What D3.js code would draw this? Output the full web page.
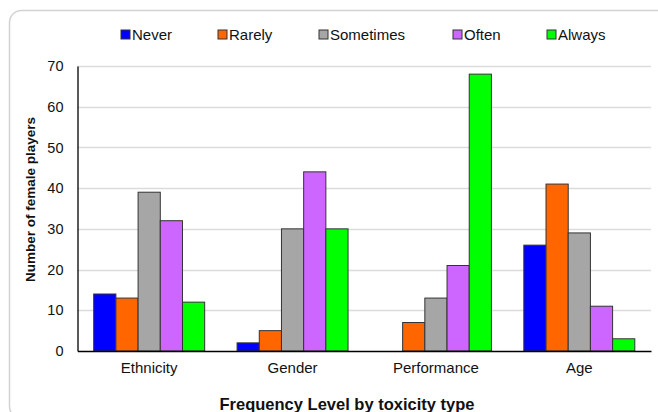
<!DOCTYPE html>
<html>
<head>
<meta charset="utf-8">
<script src="https://cdn.jsdelivr.net/npm/d3@7"></script>
<style>
  html, body { margin: 0; padding: 0; background: #fff; }
  svg { display: block; font-family: "Liberation Sans", Arial, sans-serif; }
</style>
</head>
<body>
<svg id="chart" width="658" height="412"></svg>
<script>
// Toxicity types along the x axis
const categories = ["Ethnicity", "Gender", "Performance", "Age"];
// Frequency levels (one bar per level inside each type)
const levels = ["Never", "Rarely", "Sometimes", "Often", "Always"];
const colors = ["#0000ff", "#ff6600", "#a6a6a6", "#cc66ff", "#00ff00"];
// Counts of female players, one array per frequency level (ordered like categories)
const never     = [14, 2, 0, 26];
const rarely    = [13, 5, 7, 41];
const sometimes = [39, 30, 13, 29];
const often     = [32, 44, 21, 11];
const always    = [12, 30, 68, 3];
const yTicks = [0, 10, 20, 30, 40, 50, 60, 70];

const seriesValues = [never, rarely, sometimes, often, always];

const svg = d3.select("#chart");
const margin = { left: 77.5, right: 651, top: 66, bottom: 351 };

// rounded outer frame
svg.append("rect")
  .attr("x", 9.5).attr("y", 10.5)
  .attr("width", 680).attr("height", 408)
  .attr("rx", 12).attr("ry", 12)
  .attr("fill", "none").attr("stroke", "#d2d2d2").attr("stroke-width", 1.5);

const x0 = d3.scaleBand().domain(categories)
  .range([margin.left, margin.right]).paddingInner(0.226).paddingOuter(0.113);
const x1 = d3.scaleBand().domain(levels).range([0, x0.bandwidth()]).padding(0);
const y = d3.scaleLinear().domain([0, 70]).range([margin.bottom, margin.top]);

// horizontal gridlines
svg.append("g").selectAll("line").data(yTicks.filter(t => t > 0)).join("line")
  .attr("x1", margin.left).attr("x2", margin.right)
  .attr("y1", d => Math.round(y(d)) + 0.5).attr("y2", d => Math.round(y(d)) + 0.5)
  .attr("stroke", "#dcdcdc").attr("stroke-width", 1.5);

// bars
const rows = [];
categories.forEach((c, i) => levels.forEach((l, j) => rows.push({ c, l, j, v: seriesValues[j][i] })));
svg.append("g").selectAll("rect").data(rows.filter(d => d.v > 0)).join("rect")
  .attr("x", d => x0(d.c) + x1(d.l))
  .attr("y", d => y(d.v))
  .attr("width", x1.bandwidth())
  .attr("height", d => y(0) - y(d.v))
  .attr("fill", d => colors[d.j])
  .attr("stroke", "#333").attr("stroke-width", 1);

// y axis
const yAxis = svg.append("g").attr("transform", `translate(${margin.left},0)`)
  .call(d3.axisLeft(y).tickValues(yTicks).tickSize(0).tickPadding(14));
yAxis.select(".domain").attr("stroke", "#000").attr("stroke-width", 1.3);
yAxis.selectAll("text").attr("font-size", 14.5).attr("fill", "#111")
  .attr("font-family", "Liberation Sans, Arial, sans-serif");

// x axis
const xAxis = svg.append("g").attr("transform", `translate(0,${margin.bottom})`)
  .call(d3.axisBottom(x0).tickSize(0).tickPadding(11));
xAxis.select(".domain").attr("stroke", "#000").attr("stroke-width", 1.5);
xAxis.selectAll("text").attr("font-size", 15).attr("fill", "#111")
  .attr("font-family", "Liberation Sans, Arial, sans-serif");

// axis titles
svg.append("text")
  .attr("transform", `translate(35,${(margin.top + margin.bottom) / 2 - 9}) rotate(-90)`)
  .attr("text-anchor", "middle").attr("font-size", 13.5).attr("font-weight", "bold")
  .attr("fill", "#111").text("Number of female players");
svg.append("text")
  .attr("x", 347).attr("y", 410)
  .attr("text-anchor", "middle").attr("font-size", 16.5).attr("font-weight", "bold")
  .attr("fill", "#111").text("Frequency Level by toxicity type");

// legend
const legendX = [121, 218, 319, 453, 547];
const legend = svg.append("g").selectAll("g").data(levels).join("g")
  .attr("transform", (d, i) => `translate(${legendX[i]},35)`);
legend.append("rect")
  .attr("x", 0).attr("y", -5).attr("width", 9).attr("height", 9)
  .attr("fill", (d, i) => colors[i]).attr("stroke", "#333").attr("stroke-width", 1);
legend.append("text")
  .attr("x", 11).attr("y", 5).attr("font-size", 15).attr("fill", "#111").text(d => d);
</script>
</body>
</html>
